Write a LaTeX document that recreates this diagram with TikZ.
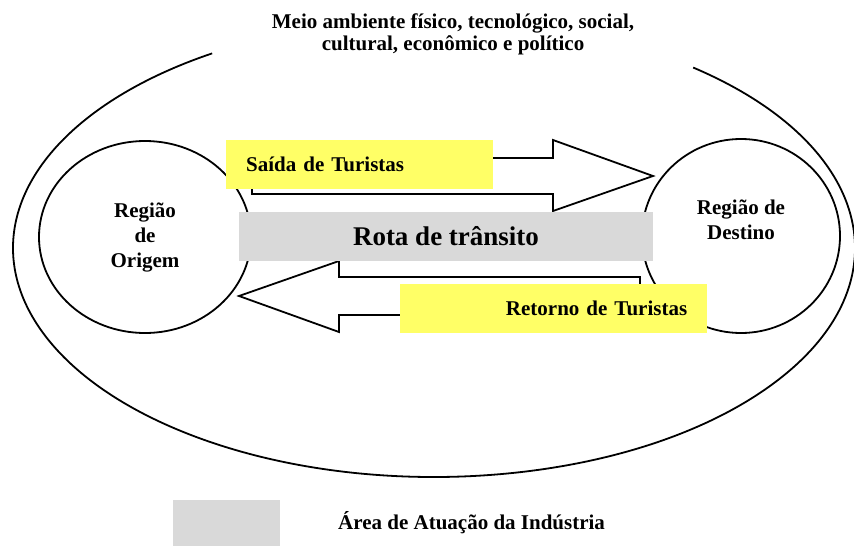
\documentclass[tikz,border=0pt]{standalone}
\usepackage{fontspec}
\setmainfont{Liberation Serif}
\usetikzlibrary{shapes.geometric}
\definecolor{amarelo}{HTML}{FFFF66}
\definecolor{cinza}{HTML}{D9D9D9}

\begin{document}
\begin{tikzpicture}[x=1pt,y=-1pt]
		\tikzset{rotulo/.style={inner sep=0pt,font=\fontsize{21}{25}\selectfont\bfseries}};
		\tikzset{regiao/.style={rotulo,ellipse,draw,line width=1.8pt,align=center}};
		\tikzset{faixa/.style={rotulo,fill=amarelo,minimum height=49,inner xsep=20pt,anchor=north west}};
		\tikzset{seta/.style={draw,fill=white,line width=1.8pt,line join=miter}};
		
		\useasboundingbox (0,0) rectangle (854,546);
		\coordinate (meio) at (434,248);
		\draw [line width=1.8pt] (meio) ++(308:421 and 229) arc[start angle=308,end angle=598.2,x radius=421,y radius=229];
		
		\node (origem) at (145,237) [regiao,minimum width=212,minimum height=192]{Região\\de\\Origem};
		\node (destino) at (741,236) [regiao,minimum width=198,minimum height=194]{Região de\\Destino\\\strut};
		
		\draw [seta] (252,158) -- (553,158) -- (553,140) -- (653,176) -- (553,211) -- (553,194) -- (252,194) -- cycle;
		\draw [seta] (239,296) -- (339,261) -- (339,277) -- (640,277) -- (640,315) -- (339,315) -- (339,332) -- cycle;
		
		\node (rota) at (446,236.5) [rotulo,fill=cinza,minimum width=414,minimum height=49,font=\fontsize{27}{30}\selectfont\bfseries]{Rota de trânsito};
		\node (saida) at (226,140) [faixa,text width=227pt,align=left]{Saída de Turistas};
		\node (retorno) at (400,284) [faixa,text width=267pt,align=right]{Retorno de Turistas};
		
		\node (ambiente) at (453,34) [rotulo,align=center,font=\fontsize{21}{22}\selectfont\bfseries]{Meio ambiente físico, tecnológico, social,\\cultural, econômico e político};
		
		\node (legenda) at (173,500) [fill=cinza,minimum width=107,minimum height=46,anchor=north west]{};
		\node (industria) at (338,523) [rotulo,anchor=west]{Área de Atuação da Indústria};
\end{tikzpicture}
\end{document}
